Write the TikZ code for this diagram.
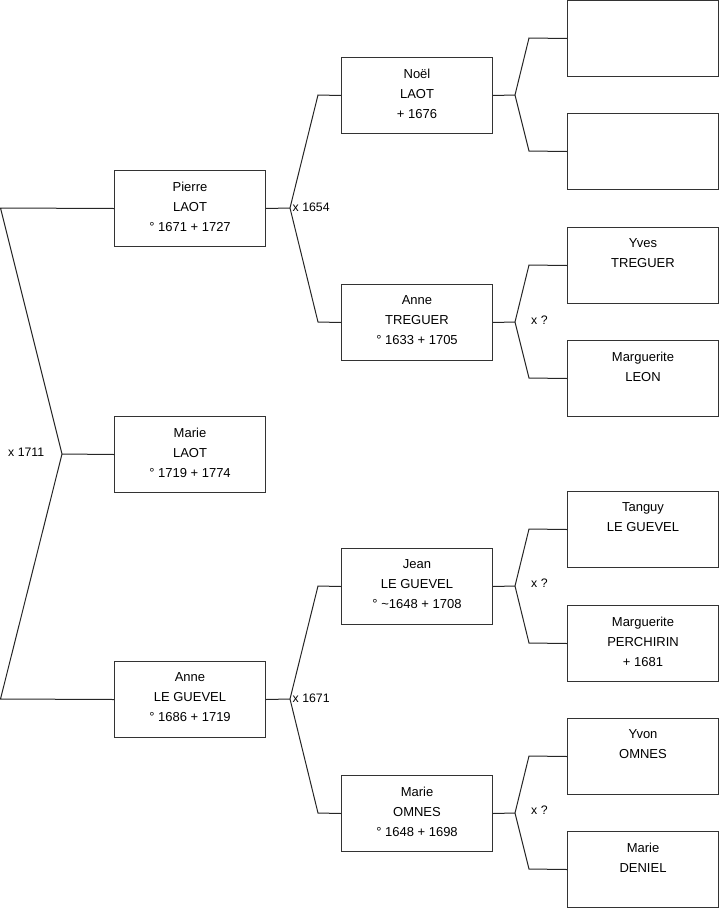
\documentclass[tikz,border=0pt]{standalone}
\usepackage{fontspec}
\setmainfont{Liberation Sans}
\newcommand\pers[4]{%
  \node[person] (#1) at (#2,#3) {};
  \node[ptext] (#1t) at ([yshift=-11.4pt]#1.north) {#4};}
\begin{document}
\begin{tikzpicture}[x=1pt,y=-1pt,
  person/.style={draw=black!80, line width=1pt, minimum width=151pt, minimum height=76pt, inner sep=0pt, anchor=north west},
  ptext/.style={anchor=north, align=center, inner sep=0pt, font=\fontsize{13}{20}\selectfont},
  link/.style={draw=black!85, line width=1pt},
  lab/.style={anchor=west, inner sep=0pt, font=\fontsize{12.3}{14}\selectfont}]
\useasboundingbox (0,0) rectangle (719,908);
% generation 1
\pers{pierre}{114}{170}{Pierre\\LAOT\\° 1671 + 1727}
\pers{marie}{114}{416}{Marie\\LAOT\\° 1719 + 1774}
\pers{anneg}{114}{661}{Anne\\LE GUEVEL\\° 1686 + 1719}
% generation 2
\pers{noel}{341}{57}{Noël\\LAOT\\+ 1676}
\pers{annet}{341}{284}{Anne\\TREGUER\\° 1633 + 1705}
\pers{jean}{341}{548}{Jean\\LE GUEVEL\\° \textasciitilde1648 + 1708}
\pers{mariao}{341}{775}{Marie\\OMNES\\° 1648 + 1698}
% generation 3
\pers{r1}{567}{0}{}
\pers{r2}{567}{113}{}
\pers{r3}{567}{227}{Yves\\TREGUER}
\pers{r4}{567}{340}{Marguerite\\LEON}
\pers{r5}{567}{491}{Tanguy\\LE GUEVEL}
\pers{r6}{567}{605}{Marguerite\\PERCHIRIN\\+ 1681}
\pers{r7}{567}{718}{Yvon\\OMNES}
\pers{r8}{567}{831}{Marie\\DENIEL}
% left fork
\coordinate (L1) at (0.5,208);
\coordinate (L2) at (0.5,699);
\coordinate (J0) at (62,454);
\draw[link] (pierre.west) -- (L1) -- (J0) -- (L2) -- (anneg.west);
\draw[link] (J0) -- (marie.west);
\node[lab] (m0) at (8,452) {x 1711};
% Pierre fork
\coordinate (J1) at (290,208);
\coordinate (J1a) at (318,95);
\coordinate (J1b) at (318,322);
\draw[link] (pierre.east) -- (J1);
\draw[link] (noel.west) -- (J1a) -- (J1) -- (J1b) -- (annet.west);
\node[lab] (m1) at (292.5,207) {x 1654};
% Anne LE GUEVEL fork
\coordinate (J2) at (290,699);
\coordinate (J2a) at (318,586);
\coordinate (J2b) at (318,813);
\draw[link] (anneg.east) -- (J2);
\draw[link] (jean.west) -- (J2a) -- (J2) -- (J2b) -- (mariao.west);
\node[lab] (m2) at (292.5,698) {x 1671};
% Noel fork
\coordinate (J3) at (515,95);
\coordinate (J3a) at (529,38);
\coordinate (J3b) at (529,151);
\draw[link] (noel.east) -- (J3);
\draw[link] (r1.west) -- (J3a) -- (J3) -- (J3b) -- (r2.west);
% Anne TREGUER fork
\coordinate (J4) at (515,322);
\coordinate (J4a) at (529,265);
\coordinate (J4b) at (529,378);
\draw[link] (annet.east) -- (J4);
\draw[link] (r3.west) -- (J4a) -- (J4) -- (J4b) -- (r4.west);
\node[lab] (m4) at (531,320) {x ?};
% Jean fork
\coordinate (J5) at (515,586);
\coordinate (J5a) at (529,529);
\coordinate (J5b) at (529,643);
\draw[link] (jean.east) -- (J5);
\draw[link] (r5.west) -- (J5a) -- (J5) -- (J5b) -- (r6.west);
\node[lab] (m5) at (531,583) {x ?};
% Marie OMNES fork
\coordinate (J6) at (515,813);
\coordinate (J6a) at (529,756);
\coordinate (J6b) at (529,869);
\draw[link] (mariao.east) -- (J6);
\draw[link] (r7.west) -- (J6a) -- (J6) -- (J6b) -- (r8.west);
\node[lab] (m6) at (531,810) {x ?};
\end{tikzpicture}
\end{document}
